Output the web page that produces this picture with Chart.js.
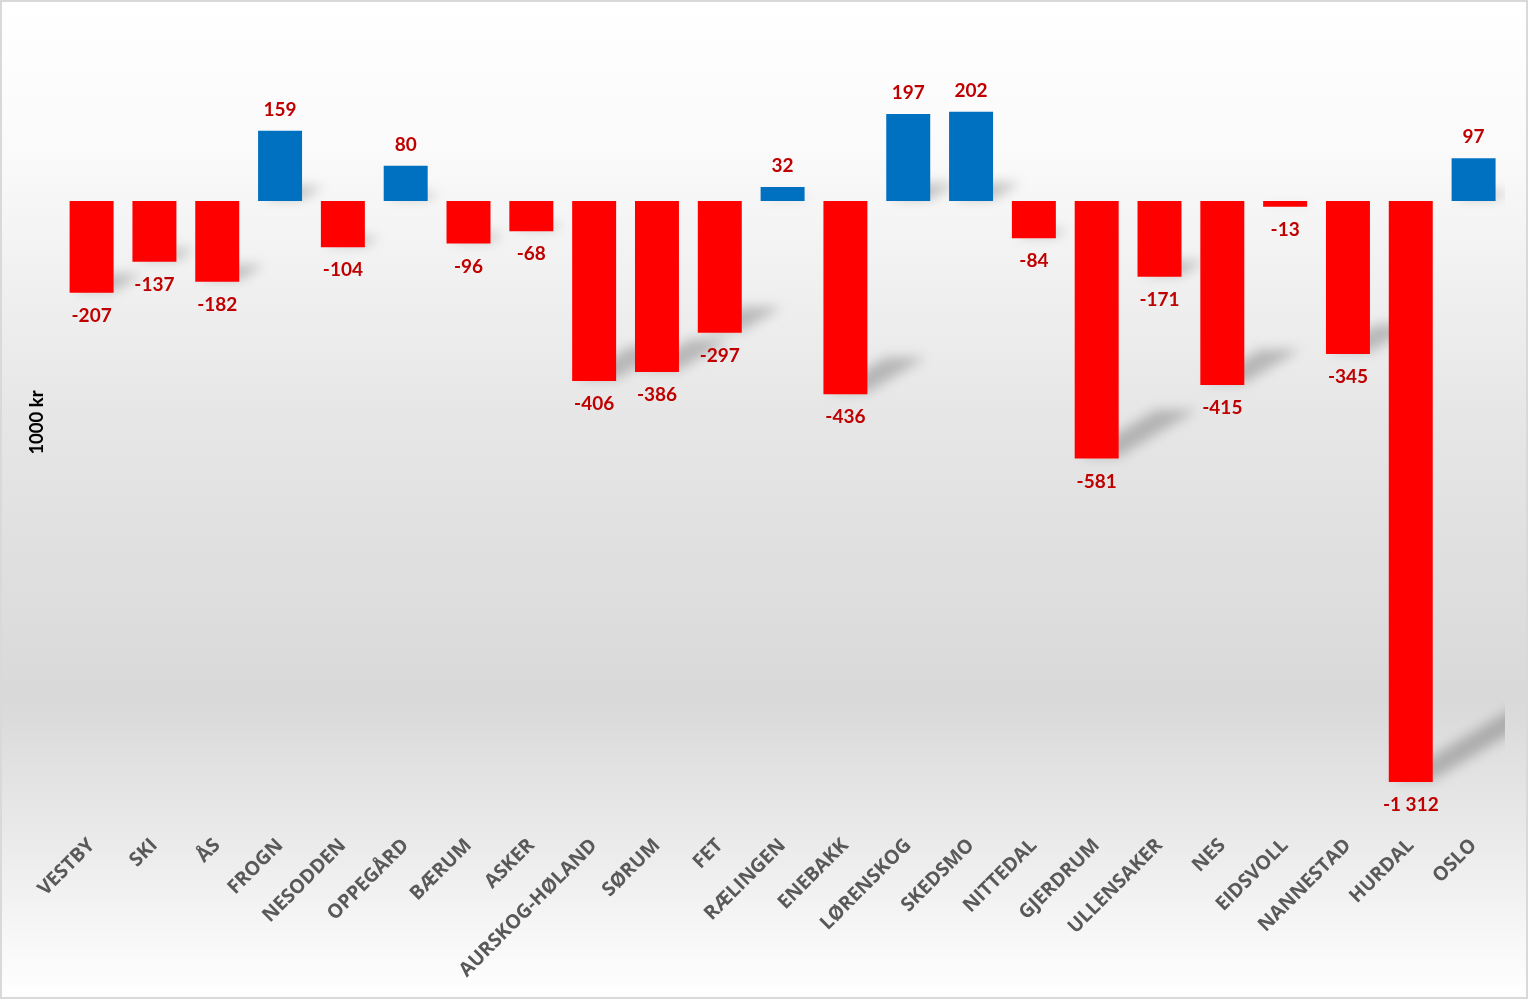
<!DOCTYPE html>
<html>
<head>
<meta charset="utf-8">
<script src="https://cdn.jsdelivr.net/npm/chart.js@4"></script>
<style>
body { margin: 0; background: #fff; }
canvas { display: block; }
</style>
</head>
<body>
<canvas id="barChart" width="1528" height="999"></canvas>
<script>
const kommuner = ["VESTBY","SKI","ÅS","FROGN","NESODDEN","OPPEGÅRD","BÆRUM","ASKER","AURSKOG-HØLAND","SØRUM","FET","RÆLINGEN","ENEBAKK","LØRENSKOG","SKEDSMO","NITTEDAL","GJERDRUM","ULLENSAKER","NES","EIDSVOLL","NANNESTAD","HURDAL","OSLO"];
const endring = [-207,-137,-182,159,-104,80,-96,-68,-406,-386,-297,32,-436,197,202,-84,-581,-171,-415,-13,-345,-1312,97];
const yMin = -1400;
const yMax = 400;

const red = "#ff0000";
const blue = "#0070c0";
const labelColor = "#c00000";

function fmt(v) {
  const s = Math.abs(v).toString().replace(/\B(?=(\d{3})+(?!\d))/g, " ");
  return (v < 0 ? "-" : "") + s;
}

// page background with soft grey band and thin frame
const backdrop = {
  id: "backdrop",
  beforeDraw(chart) {
    const ctx = chart.ctx;
    const w = chart.width, h = chart.height;
    const g = ctx.createLinearGradient(0, 0, 0, h);
    g.addColorStop(0, "#ffffff");
    g.addColorStop(0.15, "#fafafa");
    g.addColorStop(0.42, "#e6e6e6");
    g.addColorStop(0.7, "#d9d9d9");
    g.addColorStop(0.83, "#e9e9e9");
    g.addColorStop(1, "#ffffff");
    ctx.save();
    ctx.fillStyle = g;
    ctx.fillRect(0, 0, w, h);
    ctx.strokeStyle = "#d9d9d9";
    ctx.lineWidth = 2;
    ctx.strokeRect(1, 1, w - 2, h - 2);
    ctx.restore();
  }
};

// slanted perspective shadow behind each bar
const barShadow = {
  id: "barShadow",
  beforeDatasetsDraw(chart) {
    const ctx = chart.ctx;
    const a = chart.chartArea;
    ctx.save();
    ctx.beginPath();
    ctx.rect(a.left, a.top, a.right - a.left, a.bottom - a.top);
    ctx.clip();
    ctx.filter = "blur(6px)";
    ctx.fillStyle = "rgba(0,0,0,0.22)";
    chart.getDatasetMeta(0).data.forEach(bar => {
      const p = bar.getProps(["x", "y", "base", "width"], true);
      const yb = Math.max(p.y, p.base);
      const h = Math.abs(p.y - p.base);
      const dx = 0.3 * h;
      const dy = 0.6 * dx;
      const xl = p.x - p.width / 2, xr = p.x + p.width / 2;
      ctx.beginPath();
      ctx.moveTo(xl + 4, yb - 2);
      ctx.lineTo(xr, yb - 2);
      ctx.lineTo(xr + dx, yb - 2 - dy);
      ctx.lineTo(xl + 4 + dx, yb - 2 - dy);
      ctx.closePath();
      ctx.fill();
    });
    ctx.restore();
  }
};

const valueLabels = {
  id: "valueLabels",
  afterDatasetsDraw(chart) {
    const ctx = chart.ctx;
    ctx.save();
    ctx.font = "bold 19px Lato";
    ctx.fillStyle = labelColor;
    ctx.textAlign = "center";
    ctx.textBaseline = "middle";
    chart.getDatasetMeta(0).data.forEach((bar, i) => {
      const v = endring[i];
      const y = v >= 0 ? bar.y - 21 : bar.y + 23;
      ctx.fillText(fmt(v), bar.x, y);
    });
    ctx.restore();
  }
};

new Chart(document.getElementById("barChart"), {
  type: "bar",
  data: {
    labels: kommuner,
    datasets: [{
      data: endring,
      backgroundColor: endring.map(v => v < 0 ? red : blue),
      barPercentage: 0.7,
      categoryPercentage: 1
    }]
  },
  options: {
    responsive: false,
    animation: false,
    layout: { padding: { top: 24, right: 23, bottom: 12, left: 22 } },
    plugins: {
      legend: { display: false },
      tooltip: { enabled: false }
    },
    scales: {
      x: {
        grid: { display: false },
        border: { display: false },
        ticks: {
          autoSkip: false,
          minRotation: 45,
          maxRotation: 45,
          padding: 5,
          color: "#595959",
          font: { family: "Open Sans", size: 19.5, weight: "bold" }
        }
      },
      y: {
        min: yMin,
        max: yMax,
        grid: { display: false },
        border: { display: false },
        ticks: { display: false },
        title: {
          display: true,
          text: "1000 kr",
          color: "#000000",
          padding: { top: 4, bottom: 4 },
          font: { family: "Lato", size: 18.5, weight: "bold" }
        }
      }
    }
  },
  plugins: [backdrop, barShadow, valueLabels]
});
</script>
</body>
</html>
